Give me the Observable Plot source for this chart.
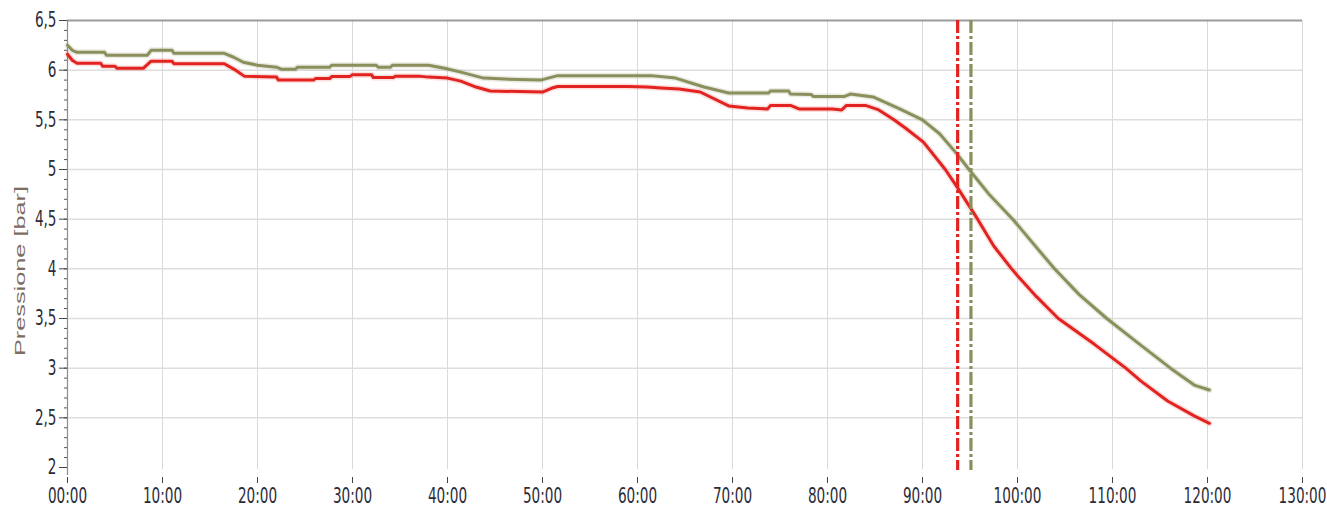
<!DOCTYPE html>
<html>
<head>
<meta charset="utf-8">
<script src="https://cdn.jsdelivr.net/npm/d3@7"></script>
<script src="https://cdn.jsdelivr.net/npm/@observablehq/plot@0.6"></script>
<style>
  html, body { margin: 0; padding: 0; background: #fff; }
  #chart svg { display: block; }
</style>
</head>
<body>
<div id="chart"></div>
<script>
// Pressure readings, [minutes, bar]
const linea1 = [
  [0, 6.25], [0.5, 6.20], [1, 6.18], [3.9, 6.18], [4.1, 6.15], [8.4, 6.15], [8.8, 6.20],
  [11, 6.20], [11.2, 6.17], [16.5, 6.17], [17.5, 6.13], [18.5, 6.08], [20, 6.05],
  [22, 6.03], [22.5, 6.01], [24, 6.01], [24.2, 6.03], [27.6, 6.03], [27.8, 6.05],
  [32.5, 6.05], [32.7, 6.03], [34, 6.03], [34.2, 6.05], [38, 6.05], [39.7, 6.02],
  [41.4, 5.98], [43.8, 5.92], [46, 5.91], [49.8, 5.90], [51.6, 5.945], [61.4, 5.945],
  [64, 5.92], [67, 5.83], [69.6, 5.77], [73.8, 5.77], [74, 5.79], [75.9, 5.79],
  [76.1, 5.76], [78.3, 5.755], [78.5, 5.735], [81.8, 5.735], [82.4, 5.76], [84.8, 5.73],
  [87.6, 5.61], [90, 5.50], [91.8, 5.36], [93.6, 5.16], [94.9, 5.0], [97.1, 4.74],
  [99.5, 4.5], [102.4, 4.17], [103.9, 4.0], [106.5, 3.74], [109.4, 3.5], [112.6, 3.26],
  [116.1, 3.0], [118.6, 2.83], [120.2, 2.78]
];
const linea2 = [
  [0, 6.16], [0.5, 6.10], [1, 6.07], [3.5, 6.07], [3.7, 6.04], [5, 6.04], [5.2, 6.02],
  [8, 6.02], [8.8, 6.09], [11, 6.09], [11.2, 6.065], [16.5, 6.065], [17.7, 6.0],
  [18.6, 5.94], [22, 5.93], [22.2, 5.90], [25.9, 5.90], [26.1, 5.915], [27.6, 5.915],
  [27.8, 5.935], [29.7, 5.935], [30, 5.955], [32, 5.955], [32.2, 5.925], [34.3, 5.925],
  [34.5, 5.94], [37, 5.94], [38, 5.93], [40, 5.92], [41.4, 5.89], [43, 5.83],
  [44.5, 5.79], [50, 5.78], [51, 5.82], [51.6, 5.835], [59, 5.835], [61, 5.83],
  [62.5, 5.82], [64.4, 5.81], [66.6, 5.78], [69.6, 5.64], [71.6, 5.62], [73.7, 5.61],
  [74, 5.645], [76.1, 5.645], [77, 5.61], [80.5, 5.61], [81.5, 5.60], [82, 5.645],
  [84, 5.645], [85.4, 5.60], [87, 5.50], [88.3, 5.41], [90.1, 5.275], [92.4, 5.0],
  [93.6, 4.83], [95.8, 4.5], [97.5, 4.23], [99.3, 4.01], [100, 3.93], [102, 3.72],
  [104.3, 3.5], [108.1, 3.24], [111.4, 3.0], [113, 2.87], [115.8, 2.67], [118.6, 2.52],
  [120.2, 2.445]
];
// Event markers (minutes)
const marker1 = 93.7;
const marker2 = 95.1;

const xTicks = [0, 10, 20, 30, 40, 50, 60, 70, 80, 90, 100, 110, 120, 130];
const yTicks = [2, 2.5, 3, 3.5, 4, 4.5, 5, 5.5, 6, 6.5];
const yMinor = d3.range(20, 66).map(d => d / 10);
const yTitle = "Pressione [bar]";

const colorOlive = "#8a8f5c";
const colorRed = "#e2231f";
const tickFont = "'DejaVu Sans Condensed', 'DejaVu Sans', sans-serif";

const chart = Plot.plot({
  width: 1327,
  height: 513,
  marginLeft: 67,
  marginRight: 25,
  marginTop: 20,
  marginBottom: 46,
  style: { fontFamily: tickFont, fontSize: "21px", background: "#fff" },
  x: { domain: [0, 130] },
  y: { domain: [2, 6.5] },
  marks: [
    // grid
    Plot.ruleX(xTicks.slice(1), { stroke: "#dadada", strokeWidth: 1, insetBottom: -2 }),
    Plot.ruleY(yTicks.filter(d => d > 2 && d < 6.5), { stroke: "#dedede", strokeWidth: 1.5 }),
    Plot.ruleY([6.5], { stroke: "#9c9c9c", strokeWidth: 2 }),
    Plot.ruleX([0], { stroke: "#8c8c8c", strokeWidth: 1.2, insetBottom: -8 }),

    // series with a soft halo
    Plot.line(linea1, { x: d => d[0], y: d => d[1], stroke: colorOlive, strokeWidth: 6, strokeOpacity: 0.18 }),
    Plot.line(linea2, { x: d => d[0], y: d => d[1], stroke: colorRed, strokeWidth: 6, strokeOpacity: 0.15 }),
    Plot.line(linea1, { x: d => d[0], y: d => d[1], stroke: colorOlive, strokeWidth: 3 }),
    Plot.line(linea2, { x: d => d[0], y: d => d[1], stroke: colorRed, strokeWidth: 3 }),

    // event markers
    Plot.ruleX([marker1], { stroke: colorRed, strokeWidth: 3.2, strokeDasharray: "13,3,3,3", insetBottom: -3 }),
    Plot.ruleX([marker2], { stroke: colorOlive, strokeWidth: 3.2, strokeDasharray: "13,3,3,3", insetBottom: -3 }),

    // axes
    Plot.axisY({ ticks: yMinor, tickSize: 3, tickFormat: () => "", stroke: "#555", label: null }),
    Plot.axisY({
      ticks: yTicks, tickSize: 8, tickPadding: 3, stroke: "#444", fill: "#2c2c38",
      tickFormat: d => String(d).replace(".", ","), label: null, fontSize: 21
    }),
    Plot.axisX({
      ticks: xTicks, tickSize: 6, tickPadding: 5, dy: 10, stroke: "#444", fill: "#2c2c38",
      tickFormat: d => String(d).padStart(2, "0") + ":00", label: null, fontSize: 21
    }),
    Plot.text([yTitle], {
      frameAnchor: "left", rotate: -90, dx: -47, dy: 27, text: d => d,
      fill: "#7d6c62", fontSize: 15, fontFamily: "'Liberation Sans', sans-serif",
      textAnchor: "middle", lineAnchor: "middle"
    })
  ]
});

document.getElementById("chart").appendChild(chart);

// narrow the tick labels horizontally around their anchor
function narrow(selection, s) {
  selection.each(function () {
    const t = this.getAttribute("transform") || "";
    this.setAttribute("transform", `${t} scale(${s},1)`);
  });
}
const svg = d3.select(chart);
narrow(svg.selectAll('g[aria-label="x-axis tick label"] text, g[aria-label="y-axis tick label"] text'), 0.72);

// stretch the rotated title to its full length
svg.selectAll("text")
  .filter(function () { return this.textContent === yTitle; })
  .attr("textLength", 170)
  .attr("lengthAdjust", "spacingAndGlyphs");
</script>
</body>
</html>
